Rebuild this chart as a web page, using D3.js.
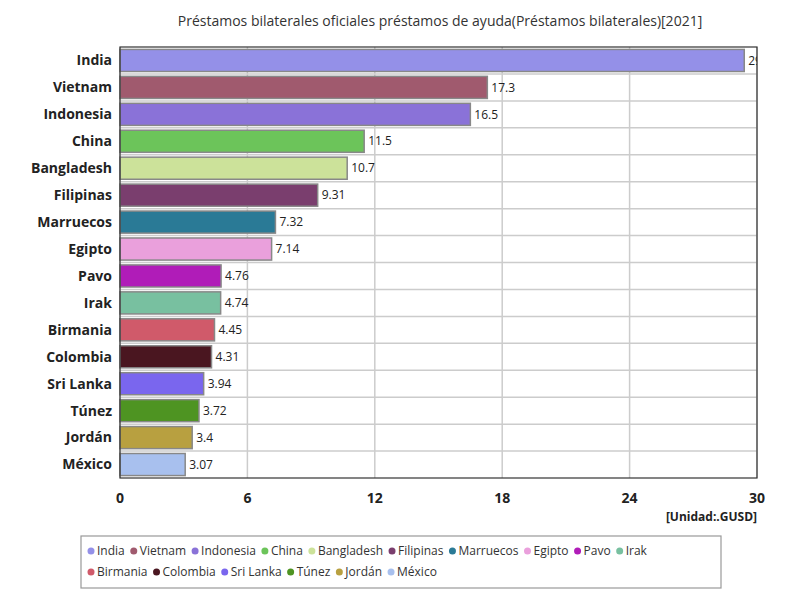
<!DOCTYPE html>
<html><head><meta charset="utf-8">
<script src="https://cdn.jsdelivr.net/npm/d3@7"></script>
<style>body{margin:0;font-family:"Open Sans",sans-serif;background:#fff}</style>
</head><body><div id="chart"></div>
<script>
const countries = ['India','Vietnam','Indonesia','China','Bangladesh','Filipinas','Marruecos','Egipto','Pavo','Irak','Birmania','Colombia','Sri Lanka','Túnez','Jordán','México'];
const values = [29.4,17.3,16.5,11.5,10.7,9.31,7.32,7.14,4.76,4.74,4.45,4.31,3.94,3.72,3.4,3.07];
const colors = ['#9490e8','#a05a6e','#8a72d8','#6cc45a','#cce29a','#7a3e6e','#2a7a96','#eaa0dc','#b01cb8','#78c0a0','#d05a6a','#4a1620','#7a66ee','#4e9422','#b8a040','#a8c0ee'];
const ticks = [0,6,12,18,24,30];

const W = 800, H = 600;
const m = {left:120, right:757, top:47, bottom:478};
const svg = d3.select('#chart').append('svg').attr('width', W).attr('height', H);

svg.append('text').attr('x', 440).attr('y', 26).attr('text-anchor','middle')
  .attr('font-size', 14).attr('fill','#333')
  .text('Préstamos bilaterales oficiales préstamos de ayuda(Préstamos bilaterales)[2021]');

const x = d3.scaleLinear().domain([0,30]).range([m.left, m.right]);
const y = d3.scaleBand().domain(countries).range([m.top, m.bottom]).paddingInner(0.18).paddingOuter(0.09);
const step = (m.bottom - m.top) / countries.length;

const g = svg.append('g');
g.selectAll('line.v').data(ticks).join('line')
  .attr('x1', d => x(d)).attr('x2', d => x(d)).attr('y1', m.top).attr('y2', m.bottom)
  .attr('stroke', '#ccc').attr('stroke-width', 1.5);
g.selectAll('line.h').data(d3.range(1, countries.length)).join('line')
  .attr('x1', m.left).attr('x2', m.right)
  .attr('y1', d => m.top + d * step).attr('y2', d => m.top + d * step)
  .attr('stroke', '#ccc').attr('stroke-width', 1.5);

g.selectAll('rect.bar').data(countries).join('rect')
  .attr('x', x(0)).attr('y', d => y(d))
  .attr('width', (d, i) => x(values[i]) - x(0)).attr('height', y.bandwidth())
  .attr('fill', (d, i) => colors[i]).attr('stroke', '#888').attr('stroke-width', 1.5);

const clip = svg.append('clipPath').attr('id','clip').append('rect')
  .attr('x', m.left).attr('y', m.top).attr('width', m.right - m.left).attr('height', m.bottom - m.top);

svg.append('g').attr('clip-path','url(#clip)').selectAll('text').data(countries).join('text')
  .attr('x', (d, i) => x(values[i]) + 4).attr('y', d => y(d) + y.bandwidth() / 2)
  .attr('dy', '0.35em').attr('font-size', 12).attr('fill', '#222')
  .text((d, i) => values[i]);

svg.append('rect').attr('x', m.left).attr('y', m.top).attr('width', m.right - m.left)
  .attr('height', m.bottom - m.top).attr('fill', 'none').attr('stroke', '#333').attr('stroke-width', 1.2);

svg.selectAll('text.cat').data(countries).join('text')
  .attr('x', m.left - 8).attr('y', d => y(d) + y.bandwidth() / 2).attr('dy', '0.35em')
  .attr('text-anchor', 'end').attr('font-size', 14).attr('font-weight', 'bold').attr('fill', '#222')
  .text(d => d);

svg.selectAll('text.tick').data(ticks).join('text')
  .attr('x', d => x(d)).attr('y', 503).attr('text-anchor', 'middle')
  .attr('font-size', 14).attr('font-weight', 'bold').attr('fill', '#222').text(d => d);

svg.append('text').attr('x', 757).attr('y', 521).attr('text-anchor', 'end')
  .attr('font-size', 12).attr('font-weight', 'bold').attr('fill', '#222').text('[Unidad:.GUSD]');

// legend
svg.append('rect').attr('x', 81).attr('y', 536).attr('width', 640).attr('height', 52)
  .attr('fill', '#fff').attr('stroke', '#999').attr('stroke-width', 1.2);
const rows = [countries.slice(0, 10), countries.slice(10)];
rows.forEach((row, r) => {
  let cx = 91;
  row.forEach(name => {
    const i = countries.indexOf(name);
    const yy = 551 + r * 21;
    svg.append('circle').attr('cx', cx).attr('cy', yy).attr('r', 3.5).attr('fill', colors[i]);
    const t = svg.append('text').attr('x', cx + 6).attr('y', yy).attr('dy', '0.35em')
      .attr('font-size', 12).attr('fill', '#333').text(name);
    cx += t.node().getComputedTextLength() + 15;
  });
});
</script></body></html>
